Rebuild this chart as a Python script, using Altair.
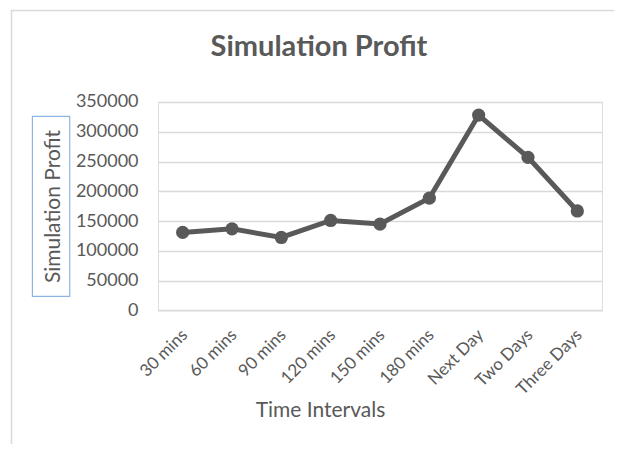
import altair as alt
import pandas as pd

categories = ["30 mins", "60 mins", "90 mins", "120 mins", "150 mins",
              "180 mins", "Next Day", "Two Days", "Three Days"]
profit = [131000, 137000, 122500, 151000, 145000, 188500, 328000, 257000, 167000]
y_ticks = [0, 50000, 100000, 150000, 200000, 250000, 300000, 350000]

df = pd.DataFrame({"interval": categories, "profit": profit})

FONT = "Lato"
TXT = "#595959"

x_enc = alt.X("interval:N", sort=categories, scale=alt.Scale(paddingInner=0, paddingOuter=0),
              axis=alt.Axis(title="Time Intervals", labelAngle=-45, labelFontSize=17,
                            labelColor=TXT, labelFont=FONT, ticks=False, domain=False,
                            labelPadding=16, labelOffset=-4, titleFontSize=21, titleFont=FONT,
                            titleColor=TXT, titleFontWeight="normal",
                            titleX=162, titleY=100, titleBaseline="middle",
                            titleAlign="center", grid=False))
y_enc = alt.Y("profit:Q", scale=alt.Scale(domain=[0, 350000], nice=False),
              axis=alt.Axis(title="Simulation Profit", values=y_ticks, format="d",
                            labelFontSize=18, labelColor=TXT, labelFont=FONT,
                            ticks=False, domain=False, labelPadding=20,
                            gridColor="#d9d9d9", gridWidth=1.3,
                            titleFontSize=21, titleFont=FONT, titleColor=TXT,
                            titleFontWeight="normal", titleX=-105, titleY=104,
                            titleAngle=-90, titleBaseline="middle", titleAlign="center"))

one = alt.Data(values=[{"k": 1}])

border = alt.Chart(one).mark_rect(fill="white", fillOpacity=0, stroke="#d9d9d9",
                                   strokeWidth=1.5, clip=False).encode(
    x=alt.value(-146.5), x2=alt.value(1000), y=alt.value(-91.5), y2=alt.value(1000))

box = alt.Chart(one).mark_rect(fill="white", fillOpacity=0, stroke="#8eb4e3",
                                strokeWidth=1.2, clip=False).encode(
    x=alt.value(-125.6), x2=alt.value(-88.3), y=alt.value(14.4), y2=alt.value(194.4))

line = alt.Chart(df).mark_line(color="#595959", strokeWidth=5).encode(x=x_enc, y=y_enc)
pts = alt.Chart(df).mark_point(color="#595959", filled=True, opacity=1, size=175).encode(
    x=x_enc, y=y_enc)

chart = alt.layer(border, box, line, pts).properties(
    width=444, height=208.4,
    title=alt.TitleParams("Simulation Profit", fontSize=29, font=FONT, fontWeight="bold",
                          color=TXT, anchor="middle", dx=-61, offset=-75,
                          baseline="alphabetic"),
    autosize=alt.AutoSizeParams(type="none"),
    padding={"left": 150, "top": 94, "right": 12, "bottom": 134},
).configure_view(stroke=None).configure(background="white")

chart.save("out.html", embed_options={"renderer": "svg", "actions": False})
